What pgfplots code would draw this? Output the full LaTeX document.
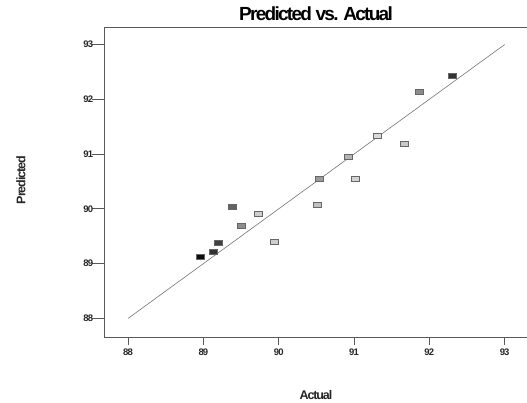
\documentclass[border=0pt]{standalone}
\usepackage{pgfplots}
\pgfplotsset{compat=1.18}
\usepackage{fontspec}
\setmainfont{Liberation Sans}
\newfontfamily\tight[LetterSpace=-9]{Liberation Sans Bold}
\pgfdeclareplotmark{rect}{\pgfpathrectangle{\pgfpoint{-4pt}{-2.5pt}}{\pgfpoint{8pt}{5pt}}\pgfusepathqfillstroke}
\begin{document}
\begin{tikzpicture}
\useasboundingbox (0,0) rectangle (527pt,402pt);
\begin{axis}[
  at={(104pt,65pt)}, anchor=south west,
  width=424pt, height=310pt, scale only axis,
  xmin=87.68, xmax=93.31, ymin=87.66, ymax=93.32,
  xtick={88,89,90,91,92,93}, ytick={88,89,90,91,92,93},
  tick align=outside, tick pos=left,
  axis line style={black!65, line width=0.7pt},
  every tick/.style={black!65, line width=0.7pt},
  x tick style={/pgfplots/major tick length=8pt},
  y tick style={/pgfplots/major tick length=12pt},
  /pgf/number format/assume math mode=true,
  ticklabel style={font=\tight\fontsize{9.5}{11}\selectfont, text=black!85},
  xticklabel style={yshift=-4pt},
  yticklabel style={xshift=-3pt},
  title={Predicted vs. Actual},
  title style={font=\tight\fontsize{19}{21}\selectfont, at={(0.5,1)}, anchor=south, yshift=-3pt},
  xlabel={Actual},
  xlabel style={font=\tight\fontsize{12.5}{14}\selectfont, text=black!85, at={(0.5,-0.187)}, anchor=center},
  ylabel={Predicted},
  ylabel style={font=\tight\fontsize{12.5}{14}\selectfont, text=black!85, at={(-0.196,0.506)}, anchor=center},
  colormap={gr}{gray(0cm)=(0); gray(1cm)=(1)},
  point meta min=0, point meta max=1,
]
\addplot[black!55, line width=0.6pt, no markers] coordinates {(88,88) (93,93)};
\addplot[scatter, only marks, mark=rect, point meta=explicit,
  scatter/use mapped color={draw=black!60, fill=mapped color}, line width=0.6pt]
  table[meta=c] {
x y c
88.953 89.124 0.05
89.126 89.215 0.20
89.202 89.387 0.25
89.383 90.031 0.38
89.503 89.690 0.55
89.734 89.916 0.80
89.941 89.405 0.80
90.513 90.073 0.75
90.536 90.542 0.60
91.015 90.547 0.82
90.918 90.943 0.70
91.303 91.332 0.85
91.662 91.193 0.78
91.866 92.130 0.55
92.305 92.421 0.20
};
\end{axis}
\end{tikzpicture}
\end{document}
